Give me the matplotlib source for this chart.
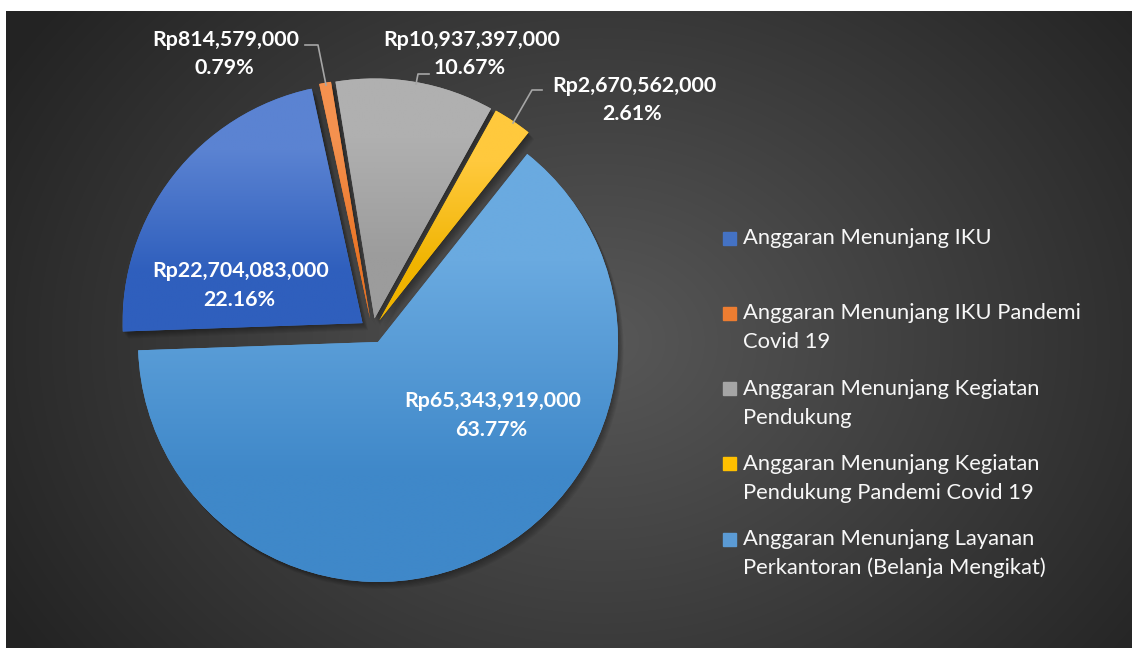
import textwrap
import numpy as np
import matplotlib.pyplot as plt
from matplotlib.patches import Rectangle, Wedge

# Budget categories and amounts (Rupiah)
categories = [
    "Anggaran Menunjang IKU",
    "Anggaran Menunjang IKU Pandemi Covid 19",
    "Anggaran Menunjang Kegiatan Pendukung",
    "Anggaran Menunjang Kegiatan Pendukung Pandemi Covid 19",
    "Anggaran Menunjang Layanan Perkantoran (Belanja Mengikat)",
]
amounts = [22704083000, 814579000, 10937397000, 2670562000, 65343919000]

# slice colours: top and bottom of each gradient
top_colors = ["#5b83d2", "#f4914f", "#b0b0b0", "#ffc93d", "#6aaae0"]
bottom_colors = ["#2f5fbd", "#ea7425", "#9c9c9c", "#f0b400", "#3f88c9"]
legend_colors = ["#4472c4", "#ed7d31", "#a5a5a5", "#ffc000", "#5b9bd5"]

W, H = 1132, 648
percents = [100 * a / sum(amounts) for a in amounts]

fig = plt.figure(figsize=(W / 100, H / 100), dpi=100)
ax = fig.add_axes([0, 0, 1, 1])

# dark radial background
yy, xx = np.mgrid[0:637, 6:W]
dist = np.sqrt(((xx - 600) / 700.0) ** 2 + ((yy - 330) / 560.0) ** 2)
shade = np.clip(0.345 - 0.21 * dist, 0.14, 1)
bg = np.dstack([shade, shade, shade])
ax.imshow(bg, extent=(6, W, 0, 637), origin="upper", aspect="auto", zorder=0)

cx, cy = 372.4, H - 330.8
wedges, _ = ax.pie(amounts, explode=[12.5] * 5, radius=240, center=(cx, cy),
                   startangle=182, counterclock=False, colors=legend_colors,
                   wedgeprops=dict(linewidth=0, zorder=3))

# soft shadows and vertical gradients on each slice
for w, c0, c1 in zip(wedges, top_colors, bottom_colors):
    for k in range(1, 8):
        sh = Wedge((w.center[0] + k * 0.8, w.center[1] - k * 1.0), w.r,
                   w.theta1, w.theta2, color="black", alpha=0.05, lw=0, zorder=2)
        ax.add_patch(sh)
    ext = w.get_path().get_extents()
    grad = np.array([[plt.matplotlib.colors.to_rgb(c0)],
                     [plt.matplotlib.colors.to_rgb(c1)]])
    im = ax.imshow(grad, extent=(ext.x0, ext.x1, ext.y0, ext.y1), origin="upper",
                   aspect="auto", interpolation="bilinear", zorder=4)
    im.set_clip_path(w)

# data labels
label_pos = [(241, 277), (226, 46), (472, 46), (634, 92), (493, 407)]
for (x, yb), a, p in zip(label_pos, amounts, percents):
    ax.text(x, H - yb, f"Rp{a:,}", ha="center", va="baseline", color="white",
            fontsize=15.4, fontweight="bold", family="Lato", zorder=6)
    ax.text(x - 2, H - yb - 28.5, f"{p:.2f}%", ha="center", va="baseline",
            color="white", fontsize=15.4, fontweight="bold", family="Lato", zorder=6)

# leader lines for the small outside labels
leaders = [
    [(305, 45), (318, 45), (326, 85)],
    [(429, 74), (418, 74), (416, 84)],
    [(542, 90), (532, 90), (513, 123)],
]
for pts in leaders:
    px = [p[0] for p in pts]
    py = [H - p[1] for p in pts]
    ax.plot(px, py, color="#a6a6a6", lw=1.2, zorder=5)

# legend
for i, (name, col) in enumerate(zip(categories, legend_colors)):
    base = 244 + 75.3 * i
    ax.add_patch(Rectangle((723, H - base - 0.5), 13, 13, color=col, zorder=6))
    for j, line in enumerate(textwrap.fill(name, 30).split("\n")):
        ax.text(743, H - base - j * 29, line, ha="left", va="baseline",
                color="#f7f7f7", fontsize=15.8, family="Lato", zorder=6)

ax.set_xlim(0, W)
ax.set_ylim(0, H)
ax.set_aspect("auto")
ax.axis("off")

fig.savefig("out.png", dpi=100, facecolor="white")
